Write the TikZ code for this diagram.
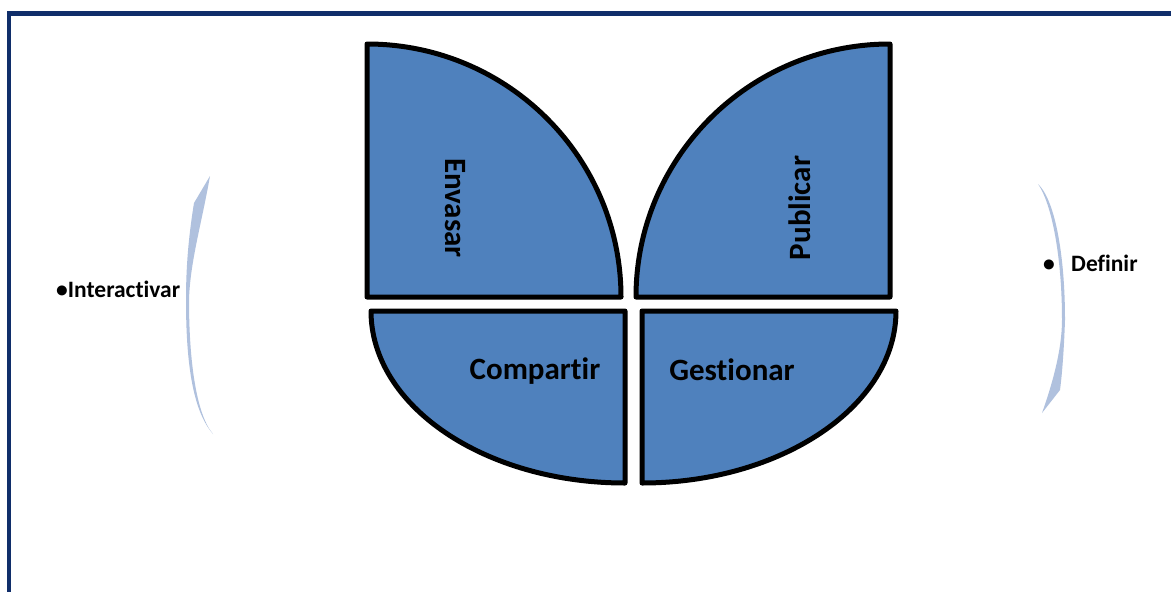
\documentclass[tikz,border=0pt]{standalone}
\usepackage{fontspec}
\setmainfont{Carlito}[Ligatures={NoCommon,NoRare,NoContextual}]
\definecolor{framenavy}{RGB}{16,46,106}
\definecolor{petal}{RGB}{79,129,189}
\definecolor{bracketblue}{RGB}{176,193,222}
\newcommand{\nolig}{\kern0pt }
\tikzset{
  petalshape/.style={fill=petal, draw=black, line width=5pt, line join=round},
  bracketshape/.style={fill=bracketblue, draw=none},
  biglabel/.style={font=\bfseries\fontsize{31}{36}\selectfont, text=black, inner sep=0pt},
  smalllabel/.style={font=\bfseries\fontsize{23.5}{27}\selectfont, text=black, inner sep=0pt}
}
\begin{document}
\begin{tikzpicture}[x=1pt, y=-1pt]
\clip (0,0) rectangle (1171,592);
\fill[white] (0,0) rectangle (1171,592);
% frame
\draw[framenavy, line width=4.8pt] (9,13.5) rectangle (1200,620);

% petals
\draw[petalshape] (367,297) -- (367,44) .. controls (507.3,44) and (621,157.3) .. (621,297) -- cycle;
\draw[petalshape] (890,297) -- (890,44) .. controls (749.7,44) and (636,157.3) .. (636,297) -- cycle;
\draw[petalshape] (625,311) -- (625,483) .. controls (484.7,483) and (371,406) .. (371,311) -- cycle;
\draw[petalshape] (642,311) -- (642,483) .. controls (781.3,483) and (896,406) .. (896,311) -- cycle;

% labels in petals
\node[biglabel, rotate=-90] (envasar) at (455,208) {Envasar};
\node[biglabel, rotate=90] (publicar) at (800,208) {Publicar};
\node[biglabel] (compartir) at (535,371) {Compart\nolig ir};
\node[biglabel] (gestionar) at (732,370) {Gest\nolig ionar};

% left bracket
\path[bracketshape] (210,176) -- (194,203)
  .. controls (188,240) and (186,270) .. (186,300)
  .. controls (186,360) and (192,410) .. (213,434)
  .. controls (196,414) and (189,360) .. (189,300)
  .. controls (190,262) and (202,222) .. (210,176) -- cycle;

% right bracket
\path[bracketshape] (1038,184)
  .. controls (1055,200) and (1065,255) .. (1065,320)
  .. controls (1064,350) and (1062,375) .. (1060,390)
  -- (1042,413)
  .. controls (1052,385) and (1062,350) .. (1062,320)
  .. controls (1062,258) and (1052,204) .. (1038,184) -- cycle;

% side labels
\begin{scope}
\clip (0,0) rectangle (181.5,592);
\node[smalllabel, anchor=base west] (interactivar) at (56,297) {•Interact\nolig ivar};
\end{scope}
\node[smalllabel, anchor=base west] (bulletdef) at (1043,271) {•};
\node[smalllabel, anchor=base west] (definir) at (1071,271) {Definir};
\end{tikzpicture}
\end{document}
